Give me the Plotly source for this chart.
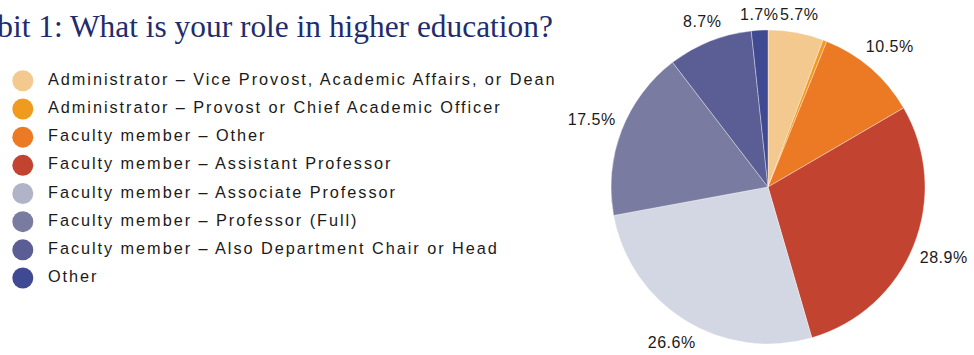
import math
import plotly.graph_objects as go

# Survey responses: share of respondents by role (percent)
roles = [
    "Administrator – Vice Provost, Academic Affairs, or Dean",
    "Administrator – Provost or Chief Academic Officer",
    "Faculty member – Other",
    "Faculty member – Assistant Professor",
    "Faculty member – Associate Professor",
    "Faculty member – Professor (Full)",
    "Faculty member – Also Department Chair or Head",
    "Other",
]
shares = [5.7, 0.4, 10.5, 28.9, 26.6, 17.5, 8.7, 1.7]
# slices smaller than this carry no label
label_min = 1.0

pie_colors = ["#F4C990", "#F19A20", "#EC7A24", "#C24430",
              "#D3D6E3", "#7A7BA0", "#5B5E94", "#3F4A92"]
key_colors = ["#F4C990", "#F19A20", "#EC7A24", "#C24430",
              "#B1B4C9", "#7A7BA0", "#5B5E94", "#3F4A92"]

W, H = 974, 355

# pie geometry (pixels from the top-left corner)
PIE_CX, PIE_CY, PIE_R = 768, 187, 157
LABEL_GAP = 8

# key geometry
KEY_DOT_X = 22.8
KEY_TEXT_DX = 25.2
KEY_TOP, KEY_BOTTOM = 66.7, 292.1

TEXT_FONT = "Liberation Sans, Arial, sans-serif"
INK = "#1a1a1a"

fig = go.Figure()

fig.add_trace(go.Pie(
    labels=roles,
    values=shares,
    textinfo="none",
    sort=False,
    direction="clockwise",
    rotation=0,
    marker=dict(colors=pie_colors, line=dict(color="rgba(255,255,255,0.6)", width=0.6)),
    domain=dict(x=[(PIE_CX - PIE_R) / W, (PIE_CX + PIE_R) / W],
                y=[(H - PIE_CY - PIE_R) / H, (H - PIE_CY + PIE_R) / H]),
    showlegend=False,
    hoverinfo="label+percent",
))

# Key: a dot per role, with the role's name to its right
fig.add_trace(go.Scatter(
    x=[0] * len(roles), y=roles, mode="markers",
    marker=dict(size=21, color=key_colors),
    showlegend=False, hoverinfo="skip", cliponaxis=False,
))
fig.add_trace(go.Scatter(
    x=[KEY_TEXT_DX] * len(roles), y=roles, mode="text",
    text=roles, textposition="middle right",
    textfont=dict(family=TEXT_FONT, size=16.3, color=INK),
    showlegend=False, hoverinfo="skip", cliponaxis=False,
))


def label_width(s, size=16):
    # rough advance widths for Arial-like digits, point and percent sign
    em = {".": 0.278, "%": 0.889}
    return sum(em.get(ch, 0.556) for ch in s) * size


# Percentage labels just outside each slice, centred on the slice's mid-angle
annotations = []
total = sum(shares)
cum = 0.0
for v in shares:
    mid = math.radians((cum + v / 2) / total * 360)
    cum += v
    if v < label_min:
        continue
    txt = f"{v:.1f}%"
    sx, sy = math.sin(mid), math.cos(mid)
    ext = abs(sx) * label_width(txt) / 2 + abs(sy) * 7
    r = PIE_R + LABEL_GAP + ext
    px = PIE_CX + r * sx
    py = PIE_CY - r * sy
    annotations.append(dict(
        text=txt, xref="paper", yref="paper", x=px / W, y=1 - py / H,
        xanchor="center", yanchor="middle", showarrow=False,
        font=dict(family=TEXT_FONT, size=16, color=INK),
    ))

annotations.append(dict(
    text="Exhibit 1: What is your role in higher education?",
    xref="paper", yref="paper", x=555 / W, y=1 - 45.5 / H,
    xanchor="right", yanchor="bottom", showarrow=False,
    font=dict(family="Liberation Serif, Times New Roman, serif", size=31.4, color="#1F2C6E"),
))

fig.update_layout(
    width=W, height=H,
    margin=dict(l=0, r=0, t=0, b=0),
    paper_bgcolor="white",
    plot_bgcolor="rgba(0,0,0,0)",
    xaxis=dict(range=[-KEY_DOT_X, W - KEY_DOT_X], domain=[0, 1],
               visible=False, fixedrange=True),
    yaxis=dict(type="category", categoryorder="array", categoryarray=roles,
               range=[len(roles) - 0.5, -0.5],
               domain=[1 - KEY_BOTTOM / H, 1 - KEY_TOP / H],
               visible=False, fixedrange=True),
    annotations=annotations,
)

# widen the tracking of the sans-serif texts once the plot is drawn
tracking = """
document.querySelectorAll('.textpoint text').forEach(function(t){
    t.style.letterSpacing = '1.95px';
});
document.querySelectorAll('.annotation-text').forEach(function(t){
    if (/%$/.test(t.textContent)) { t.style.letterSpacing = '0.5px'; }
});
"""

fig.write_html("out.html", post_script=tracking)
